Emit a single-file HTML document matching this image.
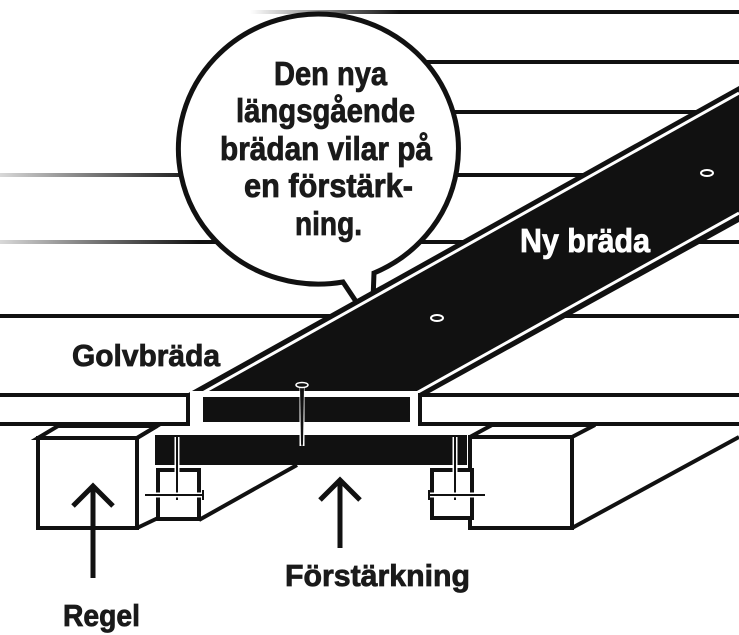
<!DOCTYPE html>
<html><head><meta charset="utf-8"><style>
html,body{margin:0;padding:0;background:#fff;width:739px;height:635px;overflow:hidden}
svg{display:block}
text{font-family:"Liberation Sans Narrow","Liberation Sans",sans-serif;font-weight:bold}
</style></head><body>
<svg width="739" height="635" viewBox="0 0 739 635" xmlns="http://www.w3.org/2000/svg">
<defs>
<linearGradient id="g1" gradientUnits="userSpaceOnUse" x1="250" y1="0" x2="400" y2="0"><stop offset="0" stop-color="#000" stop-opacity="0"/><stop offset="1" stop-color="#111"/></linearGradient>
<linearGradient id="g2" gradientUnits="userSpaceOnUse" x1="0" y1="0" x2="200" y2="0"><stop offset="0" stop-color="#000" stop-opacity="0.15"/><stop offset="1" stop-color="#111"/></linearGradient>
</defs>
<g stroke-width="4">
<line x1="250" y1="12" x2="739" y2="12" stroke="url(#g1)"/>
<line x1="250" y1="62" x2="739" y2="62" stroke="url(#g1)"/>
<line x1="250" y1="112" x2="739" y2="112" stroke="url(#g1)"/>
<line x1="0" y1="175" x2="739" y2="175" stroke="url(#g2)"/>
<line x1="0" y1="242" x2="739" y2="242" stroke="url(#g2)"/>
<line x1="0" y1="316" x2="739" y2="316" stroke="#111"/>
</g>
<!-- bubble -->
<path d="M343,282 L367,318 L373,300 L374,273 A140 135 0 1 0 343,282 Z" fill="#fff" stroke="#111" stroke-width="5" stroke-linejoin="miter"/>
<g fill="#1a1a1a" stroke="#1a1a1a" stroke-width="0.8" font-size="33">
<text x="274" y="85" textLength="113" lengthAdjust="spacingAndGlyphs">Den nya</text>
<text x="236" y="122" textLength="179" lengthAdjust="spacingAndGlyphs">längsgående</text>
<text x="220" y="160" textLength="212" lengthAdjust="spacingAndGlyphs">brädan vilar på</text>
<text x="244" y="197" textLength="169" lengthAdjust="spacingAndGlyphs">en förstärk-</text>
<text x="295" y="235" textLength="67" lengthAdjust="spacingAndGlyphs">ning.</text>
</g>
<!-- joists -->
<g fill="#fff" stroke="#111" stroke-width="4" stroke-linejoin="miter">
<polygon points="38,438 58,426 157,426 137,438"/>
<rect x="38" y="438" width="99" height="90"/>
<polyline points="137,438 157,426" fill="none"/>
<polyline points="137,528 158,518" fill="none"/>
<line x1="199" y1="520" x2="297" y2="465"/>
<polygon points="470,437 492,425 595,425 572,437"/>
<rect x="470" y="437" width="102" height="91"/>
<line x1="572" y1="528" x2="739" y2="437"/>
<rect x="158" y="470" width="41" height="49"/>
<rect x="432" y="470" width="40" height="48"/>
</g>
<rect x="155" y="435" width="312" height="30" fill="#111"/>
<!-- side nails -->
<g>
<line x1="177" y1="436" x2="177" y2="500" stroke="#fff" stroke-width="5"/>
<line x1="177" y1="436" x2="177" y2="500" stroke="#111" stroke-width="2"/>
<line x1="172" y1="436" x2="182" y2="436" stroke="#111" stroke-width="2"/>
<line x1="145" y1="495" x2="204" y2="495" stroke="#fff" stroke-width="5"/>
<line x1="145" y1="495" x2="204" y2="495" stroke="#111" stroke-width="2"/>
<line x1="203" y1="490" x2="203" y2="500" stroke="#111" stroke-width="2"/>
<line x1="455" y1="436" x2="455" y2="500" stroke="#fff" stroke-width="5"/>
<line x1="455" y1="436" x2="455" y2="500" stroke="#111" stroke-width="2"/>
<line x1="450" y1="436" x2="460" y2="436" stroke="#111" stroke-width="2"/>
<line x1="428" y1="495" x2="485" y2="495" stroke="#fff" stroke-width="5"/>
<line x1="428" y1="495" x2="485" y2="495" stroke="#111" stroke-width="2"/>
<line x1="429" y1="490" x2="429" y2="500" stroke="#111" stroke-width="2"/>
</g>
<!-- slanted new board -->
<polygon points="183,396 739,86 739,222 424,396" fill="#111"/>
<line x1="197" y1="396" x2="739" y2="93" stroke="#fff" stroke-width="3"/>
<line x1="411" y1="396" x2="739" y2="213" stroke="#fff" stroke-width="3"/>
<ellipse cx="437" cy="318" rx="6" ry="3" fill="#111" stroke="#fff" stroke-width="2"/>
<ellipse cx="707" cy="173" rx="6" ry="3" fill="#111" stroke="#fff" stroke-width="2"/>
<text x="520" y="252" fill="#fff" stroke="#fff" stroke-width="0.8" font-size="33" textLength="130" lengthAdjust="spacingAndGlyphs">Ny bräda</text>
<!-- floor boards -->
<rect x="190" y="391" width="228" height="37" fill="#fff"/>
<rect x="203" y="397" width="207" height="25" fill="#111"/>
<rect x="-5" y="395" width="193" height="29" fill="#fff" stroke="#111" stroke-width="4"/>
<rect x="420" y="395" width="325" height="29" fill="#fff" stroke="#111" stroke-width="4"/>
<!-- center nail -->
<line x1="302" y1="386" x2="302" y2="446" stroke="#fff" stroke-width="5"/>
<polygon points="300,386 304,386 303,444 302,448 301,444" fill="#111"/>
<ellipse cx="302" cy="385" rx="6" ry="2.5" fill="#111" stroke="#fff" stroke-width="1.5"/>
<!-- arrows -->
<g stroke="#111" stroke-width="5" fill="none">
<line x1="93" y1="578" x2="93" y2="486"/>
<polyline points="73,506 93,486 113,506"/>
<line x1="340" y1="548" x2="340" y2="480"/>
<polyline points="320,500 340,480 360,500"/>
</g>
<g fill="#1a1a1a" stroke="#1a1a1a" stroke-width="0.8" font-size="31">
<text x="72" y="366" textLength="148" lengthAdjust="spacingAndGlyphs">Golvbräda</text>
<text x="285" y="586" textLength="185" lengthAdjust="spacingAndGlyphs">Förstärkning</text>
<text x="63" y="626" textLength="77" lengthAdjust="spacingAndGlyphs">Regel</text>
</g>
</svg>
</body></html>
